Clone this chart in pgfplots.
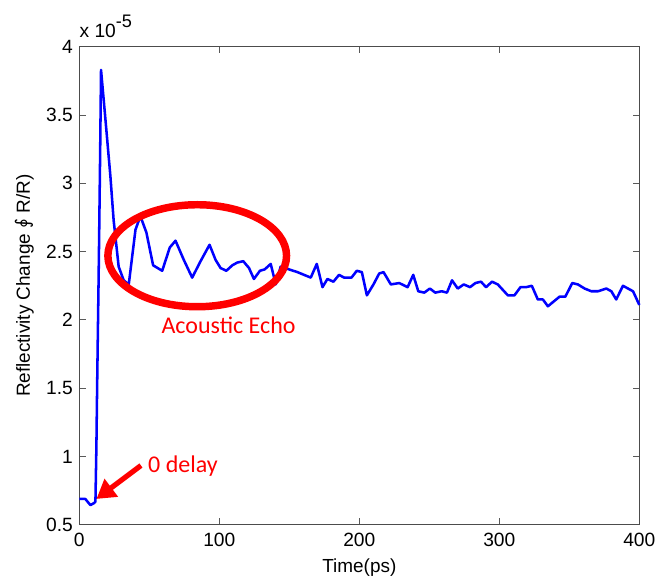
\documentclass[border=0pt]{standalone}
\usepackage{pgfplots}
\pgfplotsset{compat=1.18}
\usepackage{fontspec}
\setmainfont{Liberation Sans}
\newfontfamily\calib{Carlito}
\newfontfamily\dejavu{DejaVu Sans}
\usetikzlibrary{arrows.meta}
\definecolor{mblue}{RGB}{0,0,255}
\definecolor{ared}{RGB}{255,0,0}

\begin{document}
\begin{tikzpicture}
\begin{axis}[
  scale only axis, width=420pt, height=358.7pt,
  xmin=0, xmax=400, ymin=0.5, ymax=4,
  xtick={0,100,...,400}, ytick={0.5,1,...,4},
  tick align=inside, major tick length=5pt,
  tick style={color=black!65, line width=0.7pt},
  axis line style={black!70, line width=0.8pt},
  every tick label/.append style={font=\fontsize{14.4}{16}\selectfont},
  xticklabel style={yshift=-2.5pt},
  yticklabel style={xshift=-1.3pt},
  /pgf/number format/assume math mode=true,
  label style={font=\fontsize{14.2}{16}\selectfont},
  xlabel={Time(ps)},
  ylabel={Reflectivity Change {\dejavu ∮} R/R)},
  xlabel style={at={([yshift=-36pt]axis description cs:0.5,0)}, anchor=base},
  ylabel style={at={([xshift=-37pt]axis description cs:0,0.5)}, anchor=base, rotate=0},
  clip=false,
]
\addplot[mblue, line width=1.9pt, line join=round] coordinates {
(0,0.69) (4.3,0.69) (7.9,0.645) (10.5,0.66) (11.5,0.67)
(12.2,1.08) (12.7,1.5) (13.2,1.88) (13.7,2.25) (14.2,2.65) (14.9,3.25) (15.5,3.83)
(18.8,3.45) (22.2,3.05) (24.5,2.73) (28.1,2.39) (31.7,2.29) (35.3,2.26)
(40.1,2.66) (43.6,2.76) (47.9,2.64) (52.7,2.40) (59.2,2.36) (64.6,2.53)
(68.7,2.58) (74.6,2.44) (80.6,2.31) (86.6,2.43) (93.0,2.55) (97.3,2.44)
(100.9,2.38) (105,2.36) (109.3,2.40) (112.8,2.42) (117.1,2.43) (121.2,2.38)
(124.7,2.30) (129,2.36) (132.4,2.37) (136.7,2.41) (140.3,2.26) (143.8,2.39)
(149.8,2.37) (155.8,2.35) (160.5,2.33) (165.3,2.31) (169.6,2.41) (173.7,2.24)
(177.2,2.30) (181.5,2.28) (185.5,2.33) (189.1,2.31) (194.4,2.31) (198.2,2.36)
(201.8,2.35) (205.4,2.18) (210.1,2.26) (214.2,2.34) (217.3,2.35) (222.5,2.26)
(228.5,2.27) (234.5,2.24) (238.5,2.33) (242.1,2.21) (246.4,2.20) (250.4,2.23)
(254.2,2.20) (258.8,2.21) (262.6,2.20) (266.2,2.29) (270.3,2.23) (274.6,2.26)
(279.1,2.24) (282.9,2.27) (286.9,2.28) (290.5,2.24) (294.8,2.28) (298.9,2.26)
(302.5,2.22) (306.1,2.18) (310.8,2.18) (315.1,2.24) (319.1,2.24) (323.2,2.25)
(327.5,2.15) (331.1,2.15) (334.7,2.10) (339.4,2.14) (343,2.17) (347.1,2.17)
(352.1,2.27) (356.1,2.26) (360.9,2.23) (365.7,2.21) (370.5,2.21) (376.4,2.23)
(380,2.21) (383.5,2.15) (388.3,2.25) (391.9,2.23) (395.5,2.21) (400,2.11)
};
\draw[ared, line width=5.6pt] (axis cs:84.2,2.47) ellipse [x radius=67pt, y radius=38.25pt];
\draw[ared, line width=3.9pt, -{Triangle[length=14pt,width=16pt]}]
  (axis cs:44,0.935) -- (axis cs:12.2,0.69);
\node[ared, anchor=west, inner sep=0pt, font=\calib\fontsize{18}{20}\selectfont]
  at (axis cs:49,0.93) {0 delay};
\node[ared, inner sep=0pt, font=\calib\fontsize{18}{20}\selectfont]
  at (axis cs:106.6,1.96) {Acoustic Echo};
\node[anchor=base west, inner sep=0pt, yshift=7pt, font=\fontsize{14.4}{16}\selectfont]
  at (rel axis cs:0,1) {x 10\raisebox{7.5pt}{\fontsize{13.6}{14}\selectfont -5}};
\end{axis}
\pgfresetboundingbox
\path ([shift={(-59.5pt,-41.25pt)}]current axis.south west)
  rectangle ([shift={(12.5pt,35pt)}]current axis.north east);
\end{tikzpicture}
\end{document}
